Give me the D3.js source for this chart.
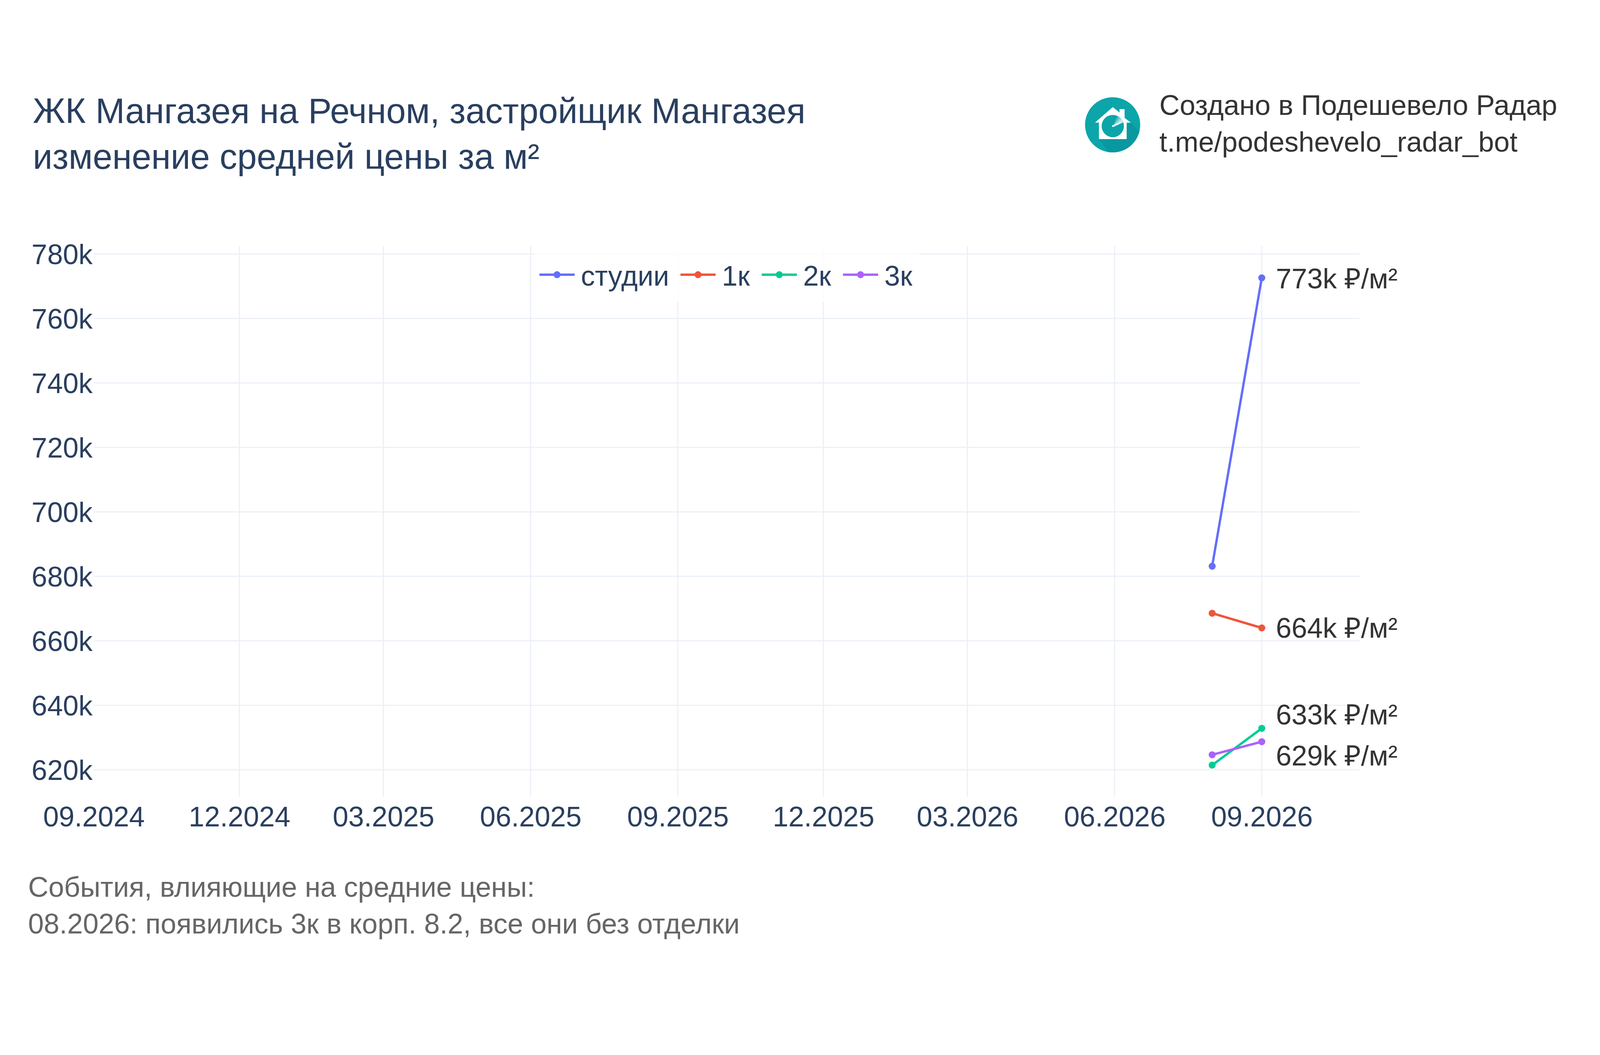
<!DOCTYPE html>
<html><head><meta charset="utf-8">
<script src="https://cdn.jsdelivr.net/npm/d3@7"></script>
<style>html,body{margin:0;padding:0;background:#fff}svg{display:block}text{font-family:"Liberation Sans",Arial,sans-serif}</style>
</head><body>
<script>
const titleLines = ["ЖК Мангазея на Речном, застройщик Мангазея", "изменение средней цены за м²"];
const creditLines = ["Создано в Подешевело Радар", "t.me/podeshevelo_radar_bot"];
const footerLines = ["События, влияющие на средние цены:", "08.2026: появились 3к в корп. 8.2, все они без отделки"];
const dates = ["2026-08-01", "2026-09-01"];
const seriesNames = ["студии", "1к", "2к", "3к"];
const seriesColors = ["#636efa", "#ef553b", "#00cc96", "#ab63fa"];
const studioValues = [683150, 772600];
const oneRoomValues = [668560, 664000];
const twoRoomValues = [621450, 632850];
const threeRoomValues = [624650, 628700];
const endLabels = ["773k ₽/м²", "664k ₽/м²", "633k ₽/м²", "629k ₽/м²"];
const labelOffsets = [2, 0, -35, 36];
const yTicks = [620000, 640000, 660000, 680000, 700000, 720000, 740000, 760000, 780000];
const xTickDates = ["2024-09-01","2024-12-01","2025-03-01","2025-06-01","2025-09-01","2025-12-01","2026-03-01","2026-06-01","2026-09-01"];

const W = 4200, H = 2700;
const parse = d3.utcParse("%Y-%m-%d");
const svg = d3.select("body").append("svg").attr("width", W).attr("height", H);
svg.append("rect").attr("width", W).attr("height", H).attr("fill", "#fff");

const x = d3.scaleUtc().domain([parse("2024-09-01"), parse("2026-11-01")]).range([240, 3480]);
const y = d3.scaleLinear().domain([620000, 780000]).range([1970, 650]);
const plotTop = 630, plotBottom = 2039;
const tickFont = 72, ink = "#2a3f5f", gridCol = "#ebf0f8";

const yAxis = d3.axisLeft(y).tickValues(yTicks).tickFormat(d => (d / 1000) + "k").tickSize(0).tickPadding(0);
const xAxis = d3.axisBottom(x).tickValues(xTickDates.map(parse)).tickFormat(d3.utcFormat("%m.%Y")).tickSize(0).tickPadding(0);

svg.append("g").selectAll("line").data(xTickDates.slice(1).map(parse)).join("line")
  .attr("x1", d => x(d)).attr("x2", d => x(d)).attr("y1", plotTop).attr("y2", plotBottom)
  .attr("stroke", gridCol).attr("stroke-width", 3);
svg.append("g").selectAll("line").data(yTicks).join("line")
  .attr("x1", 240).attr("x2", 3480).attr("y1", d => y(d)).attr("y2", d => y(d))
  .attr("stroke", gridCol).attr("stroke-width", 3);

const gy = svg.append("g").attr("transform", "translate(237,0)").call(yAxis);
gy.select(".domain").remove();
gy.selectAll("text").attr("font-size", tickFont).attr("fill", ink).attr("x", 0).attr("dy", null).attr("y", 25).attr("text-anchor", "end");

const gx = svg.append("g").attr("transform", "translate(0,2115)").call(xAxis);
gx.select(".domain").remove();
gx.selectAll("text").attr("font-size", tickFont).attr("fill", ink).attr("dy", null).attr("y", 0).attr("text-anchor", "middle");

const allValues = [studioValues, oneRoomValues, twoRoomValues, threeRoomValues];
const line = d3.line().x((d, i) => x(parse(dates[i]))).y(d => y(d));
allValues.forEach((vals, s) => {
  const g = svg.append("g");
  g.append("path").attr("d", line(vals)).attr("fill", "none").attr("stroke", seriesColors[s]).attr("stroke-width", 6);
  g.selectAll("circle").data(vals).join("circle")
    .attr("cx", (d, i) => x(parse(dates[i]))).attr("cy", d => y(d)).attr("r", 9).attr("fill", seriesColors[s]);
  g.append("text").attr("x", x(parse(dates[1])) + 36).attr("y", y(vals[1]) + labelOffsets[s] + 25)
    .attr("font-size", tickFont).attr("fill", "#333").text(endLabels[s]);
});

// legend
const legend = svg.append("g");
legend.append("rect").attr("x", 1367).attr("y", 626).attr("width", 987).attr("height", 146).attr("fill", "rgba(255,255,255,0.8)");
const legendLine0 = [1381, 1742, 1950, 2158];
seriesNames.forEach((n, i) => {
  const lx = legendLine0[i];
  legend.append("line").attr("x1", lx).attr("x2", lx + 90).attr("y1", 703).attr("y2", 703).attr("stroke", seriesColors[i]).attr("stroke-width", 6);
  legend.append("circle").attr("cx", lx + 45).attr("cy", 703).attr("r", 9).attr("fill", seriesColors[i]);
  legend.append("text").attr("x", lx + 106).attr("y", 731).attr("font-size", tickFont).attr("fill", ink).text(n);
});

// title / credit / footer
svg.append("g").selectAll("text").data(titleLines).join("text")
  .attr("x", 84).attr("y", (d, i) => 315 + i * 117).attr("font-size", 90).attr("fill", ink).text(d => d);
svg.append("g").selectAll("text").data(creditLines).join("text")
  .attr("x", 2968).attr("y", (d, i) => 294 + i * 94).attr("font-size", 72).attr("fill", "#333").text(d => d);
svg.append("g").selectAll("text").data(footerLines).join("text")
  .attr("x", 72).attr("y", (d, i) => 2295 + i * 94).attr("font-size", 72).attr("fill", "#666").text(d => d);

// logo
const logo = svg.append("g");
logo.append("clipPath").attr("id", "disc").append("circle").attr("cx", 2848.3).attr("cy", 319.5).attr("r", 70.6);
logo.append("circle").attr("cx", 2848.3).attr("cy", 319.5).attr("r", 70.6).attr("fill", "#0ba5aa");
logo.append("path").attr("clip-path", "url(#disc)").attr("fill", "#0a98a0")
  .attr("d", "M2895 313.7L2940 360L2860 420L2813 356Z");
logo.append("path").attr("fill", "#fff")
  .attr("d", "M2848.7 274L2866 288V279.3H2879V301.7L2895 313.7H2884.3V356H2813.3V313.7H2803Z");
logo.append("circle").attr("cx", 2848.7).attr("cy", 322.7).attr("r", 28.5).attr("fill", "#0ba5aa");
const sweep = d3.arc().innerRadius(0).outerRadius(28.5);
d3.range(24).forEach(i => {
  logo.append("path").attr("transform", "translate(2848.7,322.7)")
    .attr("d", sweep({startAngle: 0.35 + i * 0.032, endAngle: 0.35 + (i + 1) * 0.032 + 0.005}))
    .attr("fill", "#fff").attr("opacity", (i + 1) / 24 * 0.9);
});
logo.append("path").attr("fill", "#fff").attr("d", "M2847 321L2876 310.5L2877 312L2850 325Z");
logo.append("circle").attr("cx", 2848.7).attr("cy", 322.7).attr("r", 2).attr("fill", "#fff");
</script>
</body></html>
